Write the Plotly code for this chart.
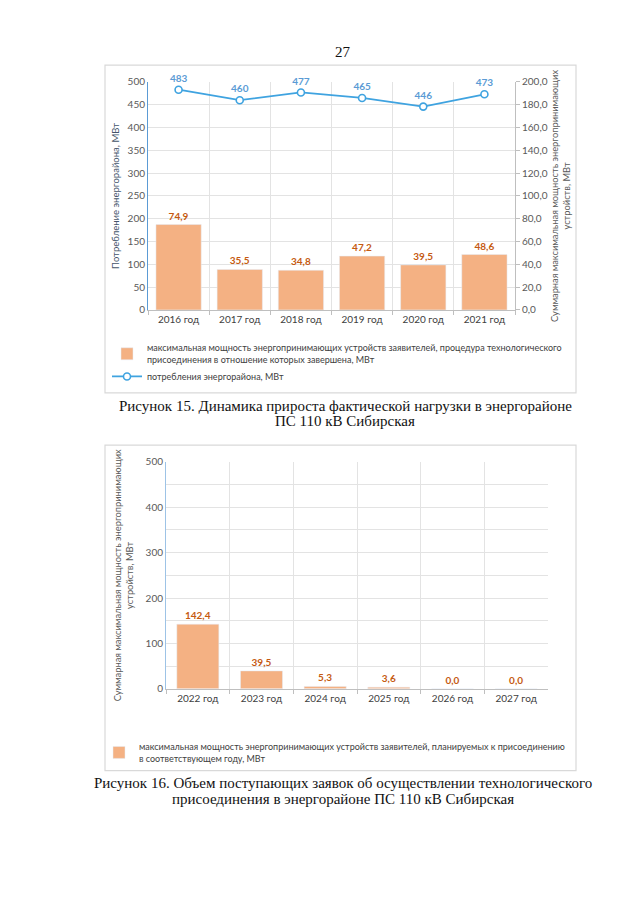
import plotly.graph_objects as go

W, H = 640, 905

# ---- data chart 1
years1 = ["2016 год", "2017 год", "2018 год", "2019 год", "2020 год", "2021 год"]
consumption = [483, 460, 477, 465, 446, 473]
max_power_done = [74.9, 35.5, 34.8, 47.2, 39.5, 48.6]

# ---- data chart 2
years2 = ["2022 год", "2023 год", "2024 год", "2025 год", "2026 год", "2027 год"]
max_power_planned = [142.4, 39.5, 5.3, 3.6, 0.0, 0.0]

BAR = "#f4b183"
BAR_TXT = "#c55a11"
LINE = "#3fa3e0"
LINE_TXT = "#5b9bd5"
TICK = "#595959"
GRID = "#e3e3e3"
FONT = "Lato"


def px(xp):
    return xp / W


def py(yp):
    return 1 - yp / H


fig = go.Figure()

fig.add_trace(go.Bar(
    x=years1, y=max_power_done, yaxis="y2", xaxis="x",
    marker_color=BAR, width=0.74,
    name="максимальная мощность энергопринимающих устройств заявителей, процедура технологического<br>присоединения в отношение которых завершена, МВт",
    texttemplate="%{y:.1f}", textposition="outside",
    textfont=dict(color=BAR_TXT, size=10, family=FONT, weight="bold"),
    cliponaxis=False, legend="legend",
))
fig.add_trace(go.Scatter(
    x=years1, y=consumption, yaxis="y", xaxis="x",
    mode="lines+markers+text",
    line=dict(color=LINE, width=1.8),
    marker=dict(symbol="circle", size=7, color="white", line=dict(width=1.6, color=LINE)),
    name="потребления энергорайона, МВт",
    texttemplate="%{y}", textposition="top center",
    textfont=dict(color=LINE_TXT, size=10, family=FONT, weight="bold"),
    cliponaxis=False, legend="legend",
))

fig.add_trace(go.Bar(
    x=years2, y=max_power_planned, yaxis="y3", xaxis="x2",
    marker_color=BAR, width=0.66,
    name="максимальная мощность энергопринимающих устройств заявителей, планируемых к присоединению<br>в соответствующем году, МВт",
    texttemplate="%{y:.1f}", textposition="outside",
    textfont=dict(color=BAR_TXT, size=10, family=FONT, weight="bold"),
    cliponaxis=False, legend="legend2",
))

axis_font = dict(family=FONT, size=10, color=TICK)

fig.update_layout(
    width=W, height=H,
    margin=dict(l=0, r=0, t=0, b=0),
    paper_bgcolor="white", plot_bgcolor="white",
    separators=", ",
    font=dict(family=FONT, size=10, color="#404040"),
    bargap=0.26,
    xaxis=dict(domain=[px(148), px(515)], anchor="y", type="category",
               tickson="boundaries", showgrid=True, gridcolor=GRID,
               showline=True, linecolor="#bfbfbf", ticks="outside", ticklen=4,
               tickcolor="#bfbfbf", tickfont=dict(family=FONT, size=10, color="#404040")),
    yaxis=dict(domain=[py(308), py(77)], anchor="x", range=[0, 500], dtick=50,
               showgrid=True, gridcolor=GRID, showline=True, linecolor=LINE_TXT,
               tickfont=axis_font, ticks="", zeroline=False,
               title=dict(text="Потребление энергорайона, МВт",
                          font=dict(family=FONT, size=9.5, color="#44546a"), standoff=6)),
    yaxis2=dict(overlaying="y", side="right", anchor="x", range=[0, 200], dtick=20,
                tickformat=".1f", showgrid=False, showline=True, linecolor="#bfbfbf",
                ticks="outside", ticklen=4, tickcolor="#bfbfbf", tickfont=axis_font,
                zeroline=False,
                title=dict(text="Суммарная максимальная мощность энергопринимающих<br>устройств, МВт",
                           font=dict(family=FONT, size=9.3, color=TICK), standoff=4)),
    xaxis2=dict(domain=[px(166), px(548)], anchor="y3", type="category",
                tickson="boundaries", showgrid=True, gridcolor=GRID,
                showline=True, linecolor="#bfbfbf", ticks="outside", ticklen=4,
                tickcolor="#bfbfbf", tickfont=dict(family=FONT, size=10, color="#404040")),
    yaxis3=dict(domain=[py(692), py(462)], anchor="x2", range=[0, 500], dtick=100,
                showgrid=True, gridcolor=GRID, showline=True, linecolor="#9dc3e6",
                minor=dict(dtick=50, showgrid=True, gridcolor=GRID),
                tickfont=axis_font, ticks="", zeroline=False,
                title=dict(text="Суммарная максимальная мощность энергопринимающих<br>устройств, МВт",
                           font=dict(family=FONT, size=9.3, color=TICK), standoff=10)),
    legend=dict(x=px(107), y=py(334), xanchor="left", yanchor="top",
                font=dict(family=FONT, size=9, color="#404040"),
                itemwidth=30, tracegroupgap=0, bgcolor="rgba(0,0,0,0)"),
    legend2=dict(x=px(99), y=py(738), xanchor="left", yanchor="top",
                 font=dict(family=FONT, size=9, color="#404040"),
                 itemwidth=30, bgcolor="rgba(0,0,0,0)"),
)

# frames around charts
fig.add_shape(type="rect", xref="paper", yref="paper", x0=px(105), x1=px(576),
              y0=py(392), y1=py(60), line=dict(color="#d9d9d9", width=1.2))
fig.add_shape(type="rect", xref="paper", yref="paper", x0=px(105), x1=px(576),
              y0=py(775), y1=py(445), line=dict(color="#d9d9d9", width=1.2))

serif = dict(family="Liberation Serif", size=15, color="#111111")
texts = [
    ("27", 343, 47),
    ("Рисунок 15. Динамика прироста фактической нагрузки в энергорайоне", 345, 405),
    ("ПС 110 кВ Сибирская", 345, 421),
    ("Рисунок 16. Объем поступающих заявок об осуществлении технологического", 343, 787),
    ("присоединения в энергорайоне ПС 110 кВ Сибирская", 343, 804),
]
for t, xx, yy in texts:
    fig.add_annotation(text=t, x=px(xx), y=py(yy), xref="paper", yref="paper",
                       showarrow=False, font=serif, xanchor="center", yanchor="middle")

fig.write_html("out.html", config={"displayModeBar": False},
               post_script="document.body.style.margin='0';")
